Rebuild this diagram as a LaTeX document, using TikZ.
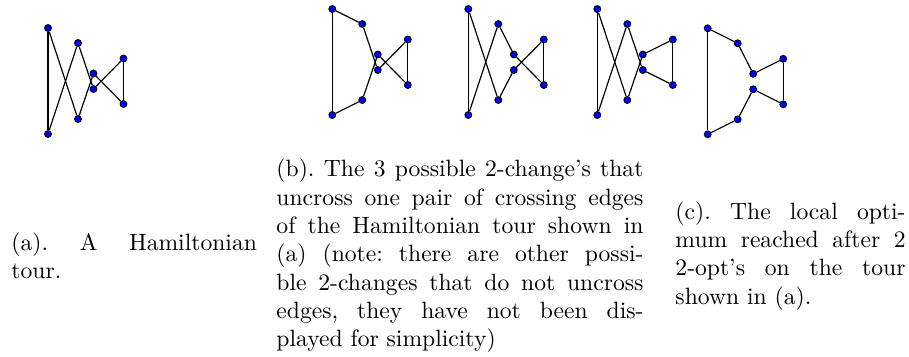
\documentclass[tikz,border=0pt]{standalone}
\newcommand\tournodes[3]{%
  \begin{scope}[shift={(#2,#3)}]
    \node[dot] (#1tl) at (0,0) {};
    \node[dot] (#1bl) at (0,106) {};
    \node[dot] (#1tm) at (30,15) {};
    \node[dot] (#1bm) at (30,91) {};
    \node[dot] (#1it) at (45.5,45.5) {};
    \node[dot] (#1ib) at (45.5,61) {};
    \node[dot] (#1rt) at (75.5,30.5) {};
    \node[dot] (#1rb) at (75.5,76) {};
  \end{scope}}
\newcommand\touredges[2]{%
  \foreach \p/\q in {#2} {\draw[tedge] (#1\p) -- (#1\q);}}
\begin{document}
\begin{tikzpicture}[x=0.4237pt,y=-0.4237pt,
  dot/.style={circle,fill=blue,draw=black,line width=0.4pt,inner sep=0pt,minimum size=2.9pt},
  tedge/.style={line width=0.5pt,black},
  captext/.style={anchor=west,inner sep=0pt,align=justify,font=\frenchspacing}]
\useasboundingbox (0,0) rectangle (909,356);

% (a)
\tournodes{a}{48}{28}
\touredges{a}{tl/bl,tl/bm,bl/tm,tm/ib,bm/it,it/rb,ib/rt,rt/rb}
% (b1)
\tournodes{p}{332.3}{9}
\touredges{p}{tl/bl,tl/tm,bl/bm,tm/ib,bm/it,it/rb,ib/rt,rt/rb}
% (b2)
\tournodes{q}{468.3}{9}
\touredges{q}{tl/bl,tl/bm,bl/tm,tm/it,bm/ib,it/rb,ib/rt,rt/rb}
% (b3)
\tournodes{r}{597.3}{9}
\touredges{r}{tl/bl,tl/bm,bl/tm,tm/ib,bm/it,it/rt,ib/rb,rt/rb}
% (c)
\tournodes{c}{707.7}{28.3}
\touredges{c}{tl/bl,tl/tm,bl/bm,tm/it,bm/ib,it/rt,ib/rb,rt/rb}

\node[captext,text width=104pt] (capa) at (11,255.8)
  {\tolerance=9999 (a). A Hamiltonian\linebreak tour.};
\node[captext,text width=155.5pt] (capb) at (276,255.8)
  {\tolerance=9999 (b). The 3 possible 2-change's that\linebreak
   uncross one pair of crossing edges\linebreak
   of the Hamiltonian tour shown in\linebreak
   (a) (note: there are other possi-\linebreak
   ble 2-changes that do not uncross\linebreak
   edges, they have not been dis-\linebreak
   played for simplicity)};
\node[captext,text width=97.5pt] (capc) at (675,255.8)
  {\tolerance=9999 (c). The local opti-\linebreak
   mum reached after 2\linebreak
   2-opt's on the tour\linebreak
   shown in (a).};
\end{tikzpicture}
\end{document}
